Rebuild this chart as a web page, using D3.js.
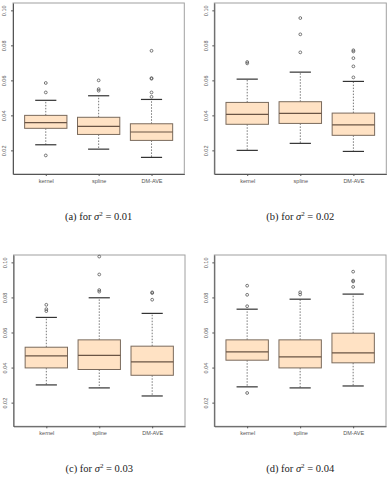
<!DOCTYPE html>
<html>
<head>
<meta charset="utf-8">
<script src="https://cdn.jsdelivr.net/npm/d3@7"></script>
<style>
  body { margin: 0; background: #fff; }
  svg { display: block; }
</style>
</head>
<body>
<svg width="390" height="478"></svg>
<script>
// categories and tick labels
const groups = ["kernel", "spline", "DM-AVE"];
const yTicks = [0.02, 0.04, 0.06, 0.08, 0.10];

// box stats per group: [lower whisker, Q1, median, Q3, upper whisker]
const statsA = [[0.0232, 0.0326, 0.0358, 0.0400, 0.0486],
                [0.0207, 0.0291, 0.0337, 0.0389, 0.0512],
                [0.0160, 0.0257, 0.0305, 0.0352, 0.0491]];
const statsB = [[0.0200, 0.0349, 0.0406, 0.0474, 0.0607],
                [0.0240, 0.0354, 0.0411, 0.0478, 0.0647],
                [0.0194, 0.0286, 0.0346, 0.0413, 0.0594]];
const statsC = [[0.0301, 0.0398, 0.0467, 0.0516, 0.0686],
                [0.0284, 0.0389, 0.0470, 0.0558, 0.0798],
                [0.0238, 0.0356, 0.0433, 0.0522, 0.0709]];
const statsD = [[0.0290, 0.0442, 0.0490, 0.0558, 0.0733],
                [0.0284, 0.0398, 0.0461, 0.0558, 0.0790],
                [0.0295, 0.0427, 0.0484, 0.0596, 0.0819]];

// outliers per group
const outA = [[0.0585, 0.0531, 0.0171],
              [0.0600, 0.0550, 0.0541],
              [0.0769, 0.0613, 0.0609, 0.0531, 0.0506]];
const outB = [[0.0705, 0.0697],
              [0.0956, 0.0863, 0.0760],
              [0.0772, 0.0765, 0.0727, 0.0680, 0.0617]];
const outC = [[0.0758, 0.0733, 0.0722],
              [0.1033, 0.0931, 0.0842, 0.0833],
              [0.0829, 0.0825, 0.0787]];
const outD = [[0.0867, 0.0815, 0.0750, 0.0255],
              [0.0829, 0.0817],
              [0.0947, 0.0896, 0.0891, 0.0860]];

const captions = ["(a) for ", "(b) for ", "(c) for ", "(d) for "];
const sigmaVals = ["0.01", "0.02", "0.03", "0.04"];

const svg = d3.select("svg");

// panel frames
const panels = [
  {stats: statsA, out: outA, x0: 13, x1: 184.3, y0: 3, y1: 174, cap: 220},
  {stats: statsB, out: outB, x0: 214.3, x1: 386.3, y0: 3, y1: 174, cap: 220},
  {stats: statsC, out: outC, x0: 13.5, x1: 185, y0: 255, y1: 426.3, cap: 472},
  {stats: statsD, out: outD, x0: 214.3, x1: 386, y0: 255, y1: 426.3, cap: 472}
];

panels.forEach(function(p, i) {
  const g = svg.append("g");
  const x = d3.scaleLinear().domain([0.38, 3.62]).range([p.x0, p.x1]);
  const y = d3.scaleLinear().domain([0.0065, 0.1042]).range([p.y1, p.y0]);
  const bw = x(1.4) - x(1);   // half box width (0.8 wide boxes)

  // frame
  g.append("rect")
    .attr("x", p.x0).attr("y", p.y0)
    .attr("width", p.x1 - p.x0).attr("height", p.y1 - p.y0)
    .attr("fill", "none").attr("stroke", "#a0a0a0").attr("stroke-width", 1);

  // y axis
  const ya = g.append("g")
    .attr("transform", `translate(${p.x0},0)`)
    .attr("color", "#555")
    .call(d3.axisLeft(y).tickValues(yTicks).tickSize(2).tickSizeOuter(0).tickFormat(d3.format(".2f")));
  ya.selectAll(".tick text")
    .attr("transform", "rotate(-90)")
    .attr("x", 0).attr("y", -8.5)
    .attr("dy", "0.35em")
    .style("text-anchor", "middle")
    .style("font-family", "'Liberation Sans', Arial, sans-serif")
    .style("font-size", "5.5px");

  // x axis
  const xa = g.append("g")
    .attr("transform", `translate(0,${p.y1})`)
    .attr("color", "#555")
    .call(d3.axisBottom(x).tickValues([1, 2, 3]).tickSize(2).tickSizeOuter(0).tickFormat((d, j) => groups[j]));
  xa.selectAll(".tick text")
    .attr("y", 5)
    .attr("dy", "0.71em")
    .style("font-family", "'Liberation Sans', Arial, sans-serif")
    .style("font-size", "5.5px");

  // boxes
  p.stats.forEach(function(s, j) {
    const cx = x(j + 1);
    // whiskers
    g.append("line")
      .attr("x1", cx).attr("x2", cx)
      .attr("y1", y(s[3])).attr("y2", y(s[4]))
      .attr("stroke", "#777").attr("stroke-dasharray", "1.5,1.5");
    g.append("line")
      .attr("x1", cx).attr("x2", cx)
      .attr("y1", y(s[1])).attr("y2", y(s[0]))
      .attr("stroke", "#777").attr("stroke-dasharray", "1.5,1.5");
    // caps
    [s[0], s[4]].forEach(function(v) {
      g.append("line")
        .attr("x1", cx - bw / 2).attr("x2", cx + bw / 2)
        .attr("y1", y(v)).attr("y2", y(v))
        .attr("stroke", "#333").attr("stroke-width", 1.2);
    });
    // box
    g.append("rect")
      .attr("x", cx - bw).attr("width", 2 * bw)
      .attr("y", y(s[3])).attr("height", y(s[1]) - y(s[3]))
      .attr("fill", "#ffe2c4").attr("stroke", "#7a6a5c").attr("stroke-width", 1);
    // median
    g.append("line")
      .attr("x1", cx - bw).attr("x2", cx + bw)
      .attr("y1", y(s[2])).attr("y2", y(s[2]))
      .attr("stroke", "#6a5444").attr("stroke-width", 1.2);
    // outliers
    g.selectAll(null)
      .data(p.out[j])
      .enter()
      .append("circle")
      .attr("cx", cx).attr("cy", d => y(d))
      .attr("r", 1.4)
      .attr("fill", "none").attr("stroke", "#555").attr("stroke-width", 0.8);
  });

  // caption
  const t = g.append("text")
    .attr("x", (p.x0 + p.x1) / 2).attr("y", p.cap)
    .attr("text-anchor", "middle")
    .style("font-family", "'Liberation Serif', 'DejaVu Serif', serif")
    .style("font-size", "10.5px")
    .attr("fill", "#222");
  t.append("tspan").text(captions[i]);
  t.append("tspan").style("font-style", "italic").text("σ");
  t.append("tspan").attr("dy", -4).style("font-size", "7px").text("2");
  t.append("tspan").attr("dy", 4).text(" = " + sigmaVals[i]);
});
</script>
</body>
</html>
